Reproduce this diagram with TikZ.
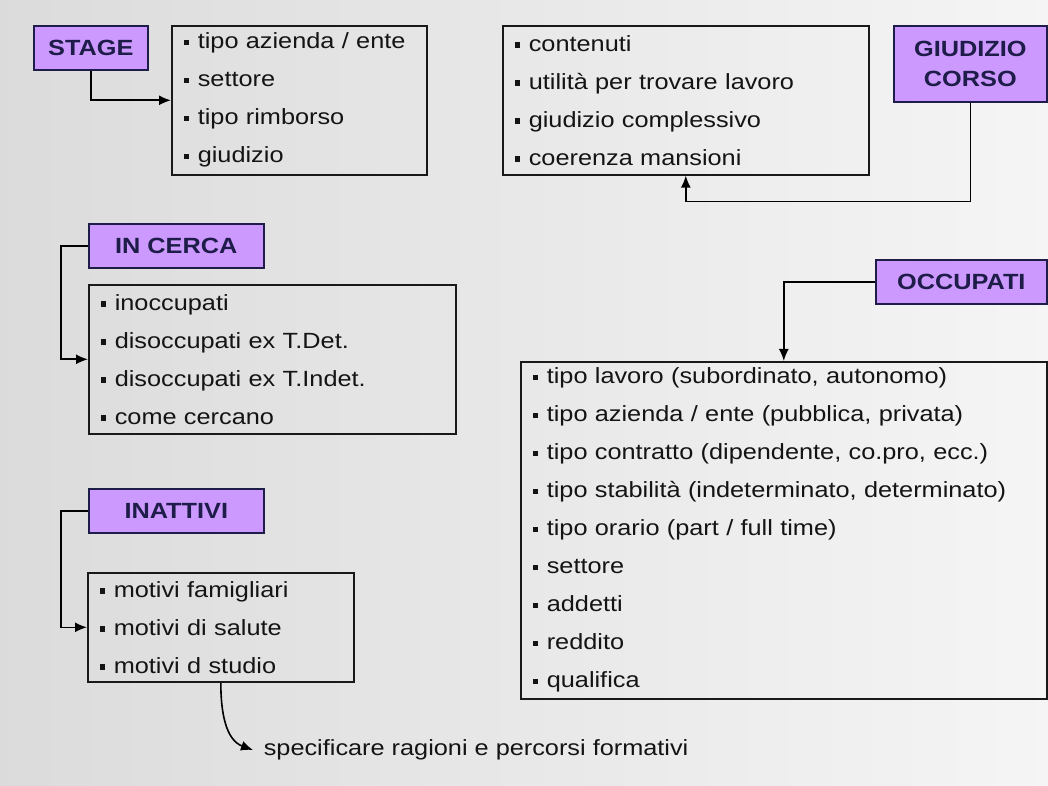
\documentclass[tikz,border=0pt]{standalone}
\usepackage{fontspec}
\setmainfont{Liberation Sans}[FakeStretch=1.15]
\usepackage{tikz}
\usetikzlibrary{positioning,arrows.meta}
\tikzset{>={Latex[width=10pt,length=12pt]}}
\definecolor{lilla}{RGB}{204,153,255}
\definecolor{bluscuro}{RGB}{30,28,72}
\newcommand{\voce}{\rule[3.5pt]{5.5pt}{5.5pt}\hspace{8.5pt}}

\begin{document}
\begin{tikzpicture}[x=1pt, y=1pt,
    every node/.style={
        anchor=north west,
        inner sep=0pt,
        text=black!92
        },
    titolo/.style={draw=bluscuro, fill=lilla, text=bluscuro, align=center,
        font=\fontsize{22}{30}\selectfont\bfseries},
    elenco/.style={draw=black!90, align=left, inner xsep=12pt,
        font=\fontsize{22}{38}\selectfont},
    line width=1.6pt
    ]
    \useasboundingbox (0,0) rectangle (1048,785);
    \shade[left color=black!14, right color=black!4] (0,0) rectangle (1048,785);

    \node[titolo, minimum width=114pt, minimum height=44pt] (stage) at (33,760) {STAGE};
    \node[elenco, text width=231pt, minimum height=149pt] (stagelist) at (171,760)
        {\voce tipo azienda / ente\\ \voce settore\\ \voce tipo rimborso\\ \voce giudizio};
    \node[elenco, text width=342pt, minimum height=149pt] (contenuti) at (502,760)
        {\voce contenuti\\ \voce utilità per trovare lavoro\\ \voce giudizio complessivo\\ \voce coerenza mansioni};
    \node[titolo, minimum width=153pt, minimum height=76pt] (giudizio) at (893,760) {GIUDIZIO\\CORSO};

    \node[titolo, minimum width=175pt, minimum height=44pt] (incerca) at (88,562) {IN CERCA};
    \node[elenco, text width=343pt, minimum height=149pt] (incercalist) at (88,501)
        {\voce inoccupati\\ \voce disoccupati ex T.Det.\\ \voce disoccupati ex T.Indet.\\ \voce come cercano};

    \node[titolo, minimum width=171pt, minimum height=44pt] (occupati) at (875,526) {OCCUPATI};
    \node[elenco, text width=502pt, minimum height=337pt] (occupatilist) at (520,424)
        {\voce tipo lavoro (subordinato, autonomo)\\ \voce tipo azienda / ente (pubblica, privata)\\
         \voce tipo contratto (dipendente, co.pro, ecc.)\\ \voce tipo stabilità (indeterminato, determinato)\\
         \voce tipo orario (part / full time)\\ \voce settore\\ \voce addetti\\ \voce reddito\\ \voce qualifica};

    \node[titolo, minimum width=175pt, minimum height=44pt] (inattivi) at (88,297) {INATTIVI};
    \node[elenco, text width=242pt, minimum height=109pt] (inattivilist) at (87,213)
        {\voce motivi famigliari\\ \voce motivi di salute\\ \voce motivi d studio};

    \node[anchor=west, inner xsep=10pt, font=\fontsize{22}{26}\selectfont] (nota) at (253,35)
        {specificare ragioni e percorsi formativi};

    \draw[->] (stage.south) |- (stagelist.west);
    \draw[->] (giudizio.south) -- ++(0,-99) -| (contenuti.south);
    \draw[->] (incerca.west) -- ++(-27,0) |- (incercalist.west);
    \draw[->] (occupati.west) -| (occupatilist.north);
    \draw[->] (inattivi.west) -- ++(-27,0) |- (inattivilist.west);
    \draw[->] (inattivilist.south) to[out=-90, in=160] (nota.west);
\end{tikzpicture}
\end{document}
